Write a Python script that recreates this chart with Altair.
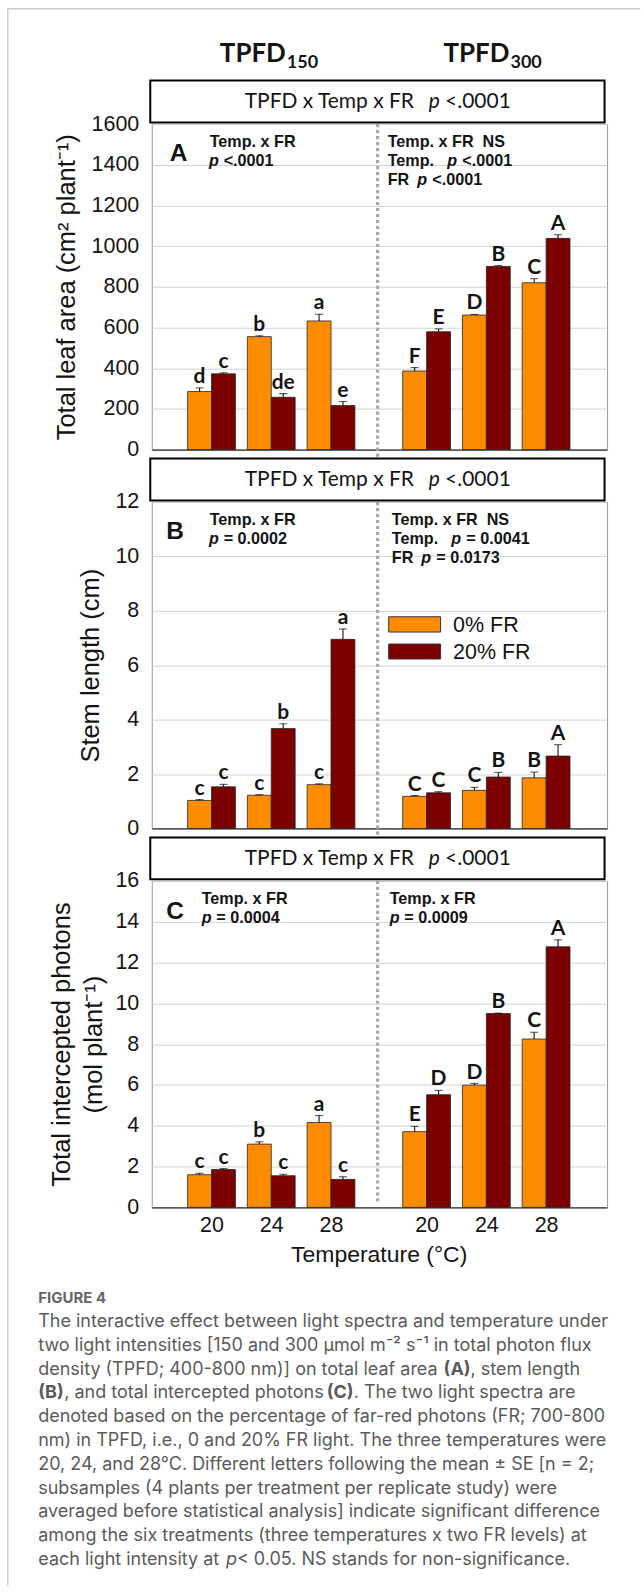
import altair as alt
import pandas as pd

# ---------------- data ----------------
temps = [20, 24, 28]
tpfd_levels = ["TPFD150", "TPFD300"]
fr_levels = ["0% FR", "20% FR"]

# Panel A: total leaf area (cm2 plant-1)
leaf_150_fr0 = [285, 555, 632]
leaf_150_fr20 = [372, 257, 216]
leaf_300_fr0 = [386, 661, 820]
leaf_300_fr20 = [579, 900, 1038]
leaf_150_fr0_se = [18, 4, 33]
leaf_150_fr20_se = [5, 18, 20]
leaf_300_fr0_se = [17, 3, 20]
leaf_300_fr20_se = [14, 4, 18]
leaf_let_150_fr0 = ["d", "b", "a"]
leaf_let_150_fr20 = ["c", "de", "e"]
leaf_let_300_fr0 = ["F", "D", "C"]
leaf_let_300_fr20 = ["E", "B", "A"]

# Panel B: stem length (cm)
stem_150_fr0 = [1.03, 1.22, 1.61]
stem_150_fr20 = [1.53, 3.67, 6.95]
stem_300_fr0 = [1.18, 1.40, 1.86]
stem_300_fr20 = [1.31, 1.89, 2.66]
stem_150_fr0_se = [0.03, 0.02, 0.03]
stem_150_fr20_se = [0.09, 0.18, 0.38]
stem_300_fr0_se = [0.03, 0.11, 0.21]
stem_300_fr20_se = [0.04, 0.17, 0.42]
stem_let_150_fr0 = ["c", "c", "c"]
stem_let_150_fr20 = ["c", "b", "a"]
stem_let_300_fr0 = ["C", "C", "B"]
stem_let_300_fr20 = ["C", "B", "A"]

# Panel C: total intercepted photons (mol plant-1)
phot_150_fr0 = [1.60, 3.10, 4.16]
phot_150_fr20 = [1.85, 1.55, 1.37]
phot_300_fr0 = [3.71, 5.99, 8.25]
phot_300_fr20 = [5.52, 9.50, 12.77]
phot_150_fr0_se = [0.07, 0.11, 0.34]
phot_150_fr20_se = [0.05, 0.07, 0.13]
phot_300_fr0_se = [0.26, 0.08, 0.33]
phot_300_fr20_se = [0.21, 0.02, 0.34]
phot_let_150_fr0 = ["c", "b", "a"]
phot_let_150_fr20 = ["c", "c", "c"]
phot_let_300_fr0 = ["E", "D", "C"]
phot_let_300_fr20 = ["D", "B", "A"]

# ---------------- layout / style ----------------
ORANGE = "#FF8C00"
DARK = "#7D0000"
CAL = "Lato"
ANN = "Liberation Sans"
ARIAL = "Liberation Sans"
CAPF = "Inter"
INK = "#141414"
W = 456
X_MAX = 7.62
GROUP_START = {"TPFD150": 1.0, "TPFD300": 4.6}
SEP = 3.78
BAR_W = 0.4
H_A, H_B, H_C = 326, 327, 327
ANN_SIZE = 16.2

one = pd.DataFrame({"k": [0]})


def make_df(v, se, let):
    rows = []
    for t in tpfd_levels:
        for fi, fr in enumerate(fr_levels):
            key = (t, fi)
            for i, temp in enumerate(temps):
                c = GROUP_START[t] + i
                x0 = c - BAR_W if fi == 0 else c
                rows.append(dict(tpfd=t, fr=fr, temp=temp, value=v[key][i], se=se[key][i],
                                 letter=let[key][i], x0=x0, x1=x0 + BAR_W, xc=x0 + BAR_W / 2,
                                 hi=v[key][i] + se[key][i]))
    return pd.DataFrame(rows)


def keyed(a, b, c, d):
    return {("TPFD150", 0): a, ("TPFD150", 1): b, ("TPFD300", 0): c, ("TPFD300", 1): d}


dfA = make_df(keyed(leaf_150_fr0, leaf_150_fr20, leaf_300_fr0, leaf_300_fr20),
              keyed(leaf_150_fr0_se, leaf_150_fr20_se, leaf_300_fr0_se, leaf_300_fr20_se),
              keyed(leaf_let_150_fr0, leaf_let_150_fr20, leaf_let_300_fr0, leaf_let_300_fr20))
dfB = make_df(keyed(stem_150_fr0, stem_150_fr20, stem_300_fr0, stem_300_fr20),
              keyed(stem_150_fr0_se, stem_150_fr20_se, stem_300_fr0_se, stem_300_fr20_se),
              keyed(stem_let_150_fr0, stem_let_150_fr20, stem_let_300_fr0, stem_let_300_fr20))
dfC = make_df(keyed(phot_150_fr0, phot_150_fr20, phot_300_fr0, phot_300_fr20),
              keyed(phot_150_fr0_se, phot_150_fr20_se, phot_300_fr0_se, phot_300_fr20_se),
              keyed(phot_let_150_fr0, phot_let_150_fr20, phot_let_300_fr0, phot_let_300_fr20))


def txt(s, x, y, size=ANN_SIZE, weight="bold", style="normal", align="left", font=ANN, color=INK,
        baseline="alphabetic"):
    return alt.Chart(one).mark_text(text=s, align=align, baseline=baseline, font=font, fontSize=size,
                                    fontWeight=weight, fontStyle=style, color=color).encode(
        x=alt.value(x), y=alt.value(y))


def header_box():
    box = alt.Chart(one).mark_rect(fill="white", stroke="black", strokeWidth=2).encode(
        x=alt.value(-1.5), x2=alt.value(453.5), y=alt.value(-43.5), y2=alt.value(-1.5))
    return [box,
            txt("TPFD x Temp x FR", 262.6, -16, size=21, weight="normal", align="right", font=CAL),
            txt("p", 277.3, -16, size=21, weight="normal", style="italic", font=CAL),
            txt("<.0001", 293.8, -16, size=21, weight="normal", font=CAL)]


tick_pos = [GROUP_START[t] + i for t in tpfd_levels for i in range(len(temps))]
tick_lab = [str(temps[i]) for t in tpfd_levels for i in range(len(temps))]
label_expr = "''"
for p, l in reversed(list(zip(tick_pos, tick_lab))):
    label_expr = f"abs(datum.value - {p}) < 0.01 ? '{l}' : ({label_expr})"


def panel(df, ymax, ystep, ytitle, title_x, height, show_x, extras, sep_extend):
    xs = alt.Scale(domain=[0, X_MAX], nice=False, zero=False)
    ys = alt.Scale(domain=[0, ymax], nice=False, zero=True)
    if show_x:
        xaxis = alt.Axis(values=tick_pos, labelExpr=label_expr, grid=False, ticks=False, tickSize=0,
                         domain=True, domainColor="#333333", domainWidth=1.2,
                         labelFont=ARIAL, labelFontSize=21.5, labelColor=INK, labelPadding=24.5,
                         labelBaseline="alphabetic", labelFlush=False, labelOverlap=False,
                         title="Temperature (°C)", titleFont=ARIAL, titleFontSize=23,
                         titleFontWeight="normal", titleColor=INK, titleX=227.3, titleY=54.5,
                         titleBaseline="alphabetic", titleAlign="center")
    else:
        xaxis = alt.Axis(labels=False, ticks=False, tickSize=0, grid=False, domain=True,
                         domainColor="#333333", domainWidth=1.2, title=None)
    yaxis = alt.Axis(values=list(range(0, ymax + 1, ystep)), format="d", grid=True,
                     gridColor="#d2d2d2", gridWidth=1, ticks=False, tickSize=0, domain=False,
                     labelFont=ARIAL, labelFontSize=21.5, labelColor=INK, labelPadding=13,
                     title=ytitle, titleFont=ARIAL, titleFontSize=25.5, titleFontWeight="normal",
                     titleColor=INK, titleAngle=270, titleX=title_x, titleY=height / 2,
                     titleAlign="center", titleBaseline="middle", titleLineHeight=32)
    color = alt.Color("fr:N", scale=alt.Scale(domain=fr_levels, range=[ORANGE, DARK]), legend=None)
    base = alt.Chart(df)
    sep = alt.Chart(pd.DataFrame({"s": [SEP]})).mark_rule(
        color="#a9a9a9", strokeWidth=3.2, strokeDash=[3.2, 2.8]).encode(
        x=alt.X("s:Q", scale=xs, axis=xaxis), y=alt.value(0), y2=alt.value(height + sep_extend))
    bars = base.mark_rect(stroke="#262626", strokeWidth=0.8).encode(
        x=alt.X("x0:Q", scale=xs, axis=xaxis), x2=alt.X2("x1"),
        y=alt.Y("value:Q", scale=ys, axis=yaxis), y2=alt.datum(0), color=color)
    err = base.mark_rule(color="#111111", strokeWidth=1.1).encode(
        x=alt.X("xc:Q", scale=xs, axis=xaxis), y=alt.Y("value:Q", scale=ys, axis=yaxis), y2=alt.Y2("hi"))
    cap = base.mark_tick(color="#111111", thickness=1.1, size=8, orient="horizontal").encode(
        x=alt.X("xc:Q", scale=xs, axis=xaxis), y=alt.Y("hi:Q", scale=ys, axis=yaxis))
    lab = base.mark_text(font=CAL, fontWeight="bold", fontSize=21, baseline="alphabetic", dy=-5,
                         color=INK).encode(
        x=alt.X("xc:Q", scale=xs, axis=xaxis), y=alt.Y("hi:Q", scale=ys, axis=yaxis), text="letter:N")
    layers = [bars, sep, err, cap, lab] + header_box() + extras
    return alt.layer(*layers).properties(width=W, height=height)


# ---------------- annotations ----------------
L1, L2, L3 = 23.0, 42.0, 61.0
extrasA = [
    # page frame (invisible extent) and card border
    alt.Chart(one).mark_rect(opacity=0).encode(x=alt.value(-150.7), x2=alt.value(489.3),
                                                y=alt.value(-122), y2=alt.value(1464)),
    alt.Chart(one).mark_rule(color="#cccccc", strokeWidth=1.4).encode(
        x=alt.value(-144.2), y=alt.value(-116), y2=alt.value(1464)),
    alt.Chart(one).mark_rule(color="#cccccc", strokeWidth=1.4).encode(
        x=alt.value(-144.9), x2=alt.value(489.3), y=alt.value(-115.5)),
    txt("TPFD", 134.3, -62, size=26, align="right", font=CAL),
    txt("150", 135.3, -56, size=18, font=CAL),
    txt("TPFD", 358.3, -62, size=26, align="right", font=CAL),
    txt("300", 359.3, -56, size=18, font=CAL),
    txt("A", 26.8, 37.3, size=24.5, font=ARIAL, align="center"),
    txt("Temp. x FR", 58, L1),
    txt("p", 57.3, L2, style="italic"),
    txt("<.0001", 72, L2),
    txt("Temp. x FR\u00a0\u00a0NS", 236.3, L1),
    txt("Temp.", 236.3, L2),
    txt("p", 296, L2, style="italic"),
    txt("<.0001", 311, L2),
    txt("FR", 236.3, L3),
    txt("p", 266, L3, style="italic"),
    txt("<.0001", 281, L3),
]

extrasB = [
    txt("B", 23.3, 37, size=24.5, font=ARIAL, align="center"),
    txt("Temp. x FR", 58, L1),
    txt("p", 57.3, L2, style="italic"),
    txt("= 0.0002", 72, L2),
    txt("Temp. x FR\u00a0\u00a0NS", 240.4, L1),
    txt("Temp.", 240.4, L2),
    txt("p", 300, L2, style="italic"),
    txt("= 0.0041", 315, L2),
    txt("FR", 240.4, L3 + 0.5),
    txt("p", 270, L3 + 0.5, style="italic"),
    txt("= 0.0173", 285, L3 + 0.5),
    # legend
    alt.Chart(one).mark_rect(stroke="#333333", strokeWidth=1, color=ORANGE).encode(
        x=alt.value(237.3), x2=alt.value(289.3), y=alt.value(115), y2=alt.value(130.3)),
    alt.Chart(one).mark_rect(stroke="#333333", strokeWidth=1, color=DARK).encode(
        x=alt.value(237.3), x2=alt.value(289.3), y=alt.value(142.3), y2=alt.value(157.3)),
    txt(fr_levels[0], 301.8, 130, size=21.5, font=ARIAL, weight="normal"),
    txt(fr_levels[1], 301.8, 157.5, size=21.5, font=ARIAL, weight="normal"),
]

cap_lines = [
    [("The interactive effect between light spectra and temperature under", "n", 37)],
    [("two light intensities [150 and 300 µmol m⁻² s⁻¹ in total photon flux", "n", 37)],
    [("density (TPFD; 400-800 nm)] on total leaf area", "n", 37), ("(A)", "b", 443),
     (", stem length", "n", 470)],
    [("(B)", "b", 37), (", and total intercepted photons", "n", 63), ("(C)", "b", 326),
     (". The two light spectra are", "n", 353)],
    [("denoted based on the percentage of far-red photons (FR; 700-800", "n", 37)],
    [("nm) in TPFD, i.e., 0 and 20% FR light. The three temperatures were", "n", 37)],
    [("20, 24, and 28°C. Different letters following the mean ± SE [n = 2;", "n", 37)],
    [("subsamples (4 plants per treatment per replicate study) were", "n", 37)],
    [("averaged before statistical analysis] indicate significant difference", "n", 37)],
    [("among the six treatments (three temperatures x two FR levels) at", "n", 37)],
    [("each light intensity at", "n", 37), ("p", "i", 225),
     ("< 0.05. NS stands for non-significance.", "n", 236)],
]

CAP_COL = "#5a5a5a"
extrasC = [
    txt("C", 23.3, 38.3, size=24.5, font=ARIAL, align="center"),
    txt("Temp. x FR", 50, L1),
    txt("p", 50, L2, style="italic"),
    txt("= 0.0004", 64.7, L2),
    txt("Temp. x FR", 238.3, L1),
    txt("p", 238.3, L2, style="italic"),
    txt("= 0.0009", 253, L2),
    txt("FIGURE 4", 37 - 150.7, 423, size=15, weight="bold", color="#666666", font=CAPF),
]
for li, line in enumerate(cap_lines):
    yb = 447 + 23.8 * li
    for s, st, px in line:
        extrasC.append(txt(s, px - 150.7, yb, size=18, color=CAP_COL, font=CAPF,
                           weight="bold" if st == "b" else "normal",
                           style="italic" if st == "i" else "normal"))

pA = panel(dfA, 1600, 200, "Total leaf area (cm² plant⁻¹)", -85.7, H_A, False, extrasA, 9)
pB = panel(dfB, 12, 2, "Stem length (cm)", -61.7, H_B, False, extrasB, 9)
pC = panel(dfC, 16, 2, ["Total intercepted photons", "(mol plant⁻¹)"], -90.7, H_C, True, extrasC, -6)

chart = alt.vconcat(pA, pB, pC, spacing=52.5, bounds="flush").resolve_scale(
    x="independent", y="independent").properties(padding=0).configure_view(
    stroke="#9a9a9a", strokeWidth=1).configure_axis(labelLimit=0)

chart.save("out.html", embed_options={"renderer": "svg", "actions": False})
